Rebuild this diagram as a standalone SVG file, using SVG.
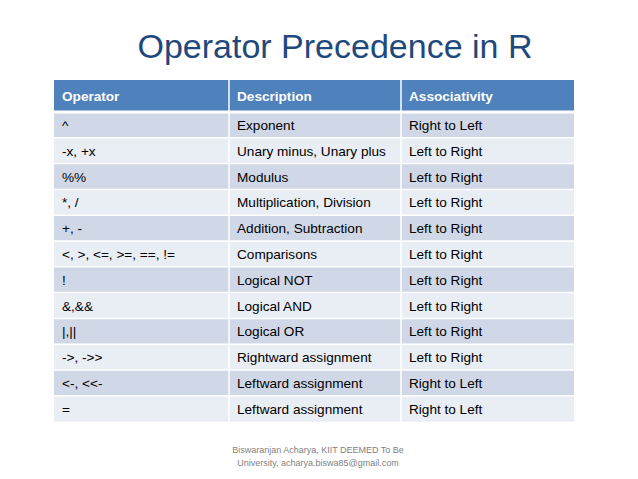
<svg xmlns="http://www.w3.org/2000/svg" width="638" height="479" viewBox="0 0 638 479">
<style>
.t{font-family:"Liberation Sans",Arial,sans-serif;font-size:13.6px;fill:#000}
.h{font-family:"Liberation Sans",Arial,sans-serif;font-size:13.6px;font-weight:bold;fill:#fff}
.a{fill:#D0D8E8}.b{fill:#E9EDF4}
.f{font-family:"Liberation Sans",Arial,sans-serif;font-size:9px;fill:#7f7f7f}
</style>
<rect width="638" height="479" fill="#fff"/>
<text x="335" y="58" text-anchor="middle" font-family="Liberation Sans,Arial,sans-serif" font-size="34" fill="#1F497D">Operator Precedence in R</text>
<g id="table">
<rect x="54" y="80" width="520" height="32" fill="#4F81BD"/>
<text class="h" x="62" y="101">Operator</text><text class="h" x="237" y="101">Description</text><text class="h" x="409" y="101">Associativity</text>
<rect class="a" x="54" y="112" width="520" height="25.8"/>
<rect class="b" x="54" y="137.8" width="520" height="25.8"/>
<rect class="a" x="54" y="163.6" width="520" height="25.8"/>
<rect class="b" x="54" y="189.4" width="520" height="25.8"/>
<rect class="a" x="54" y="215.2" width="520" height="25.8"/>
<rect class="b" x="54" y="241" width="520" height="25.8"/>
<rect class="a" x="54" y="266.8" width="520" height="25.8"/>
<rect class="b" x="54" y="292.6" width="520" height="25.8"/>
<rect class="a" x="54" y="318.4" width="520" height="25.8"/>
<rect class="b" x="54" y="344.2" width="520" height="25.8"/>
<rect class="a" x="54" y="370" width="520" height="25.8"/>
<rect class="b" x="54" y="395.8" width="520" height="25.8"/>
<g stroke="#fff" stroke-width="1.5">
<line x1="229" y1="80" x2="229" y2="422"/><line x1="401" y1="80" x2="401" y2="422"/>
<line x1="54" y1="112" x2="574" y2="112" stroke-width="3"/>
<line x1="54" y1="137.8" x2="574" y2="137.8"/><line x1="54" y1="163.6" x2="574" y2="163.6"/><line x1="54" y1="189.4" x2="574" y2="189.4"/><line x1="54" y1="215.2" x2="574" y2="215.2"/><line x1="54" y1="241" x2="574" y2="241"/><line x1="54" y1="266.8" x2="574" y2="266.8"/><line x1="54" y1="292.6" x2="574" y2="292.6"/><line x1="54" y1="318.4" x2="574" y2="318.4"/><line x1="54" y1="344.2" x2="574" y2="344.2"/><line x1="54" y1="370" x2="574" y2="370"/><line x1="54" y1="395.8" x2="574" y2="395.8"/>
</g>
<g class="t">
<text class="t" x="62" y="130">^</text><text class="t" x="237" y="130">Exponent</text><text class="t" x="409" y="130">Right to Left</text>
<text class="t" x="62" y="155.8">-x, +x</text><text class="t" x="237" y="155.8">Unary minus, Unary plus</text><text class="t" x="409" y="155.8">Left to Right</text>
<text class="t" x="62" y="181.6">%%</text><text class="t" x="237" y="181.6">Modulus</text><text class="t" x="409" y="181.6">Left to Right</text>
<text class="t" x="62" y="207.4">*, /</text><text class="t" x="237" y="207.4">Multiplication, Division</text><text class="t" x="409" y="207.4">Left to Right</text>
<text class="t" x="62" y="233.2">+, -</text><text class="t" x="237" y="233.2">Addition, Subtraction</text><text class="t" x="409" y="233.2">Left to Right</text>
<text class="t" x="62" y="259">&lt;, &gt;, &lt;=, &gt;=, ==, !=</text><text class="t" x="237" y="259">Comparisons</text><text class="t" x="409" y="259">Left to Right</text>
<text class="t" x="62" y="284.8">!</text><text class="t" x="237" y="284.8">Logical NOT</text><text class="t" x="409" y="284.8">Left to Right</text>
<text class="t" x="62" y="310.6">&amp;,&amp;&amp;</text><text class="t" x="237" y="310.6">Logical AND</text><text class="t" x="409" y="310.6">Left to Right</text>
<text class="t" x="62" y="336.4">|,||</text><text class="t" x="237" y="336.4">Logical OR</text><text class="t" x="409" y="336.4">Left to Right</text>
<text class="t" x="62" y="362.2">-&gt;, -&gt;&gt;</text><text class="t" x="237" y="362.2">Rightward assignment</text><text class="t" x="409" y="362.2">Left to Right</text>
<text class="t" x="62" y="388">&lt;-, &lt;&lt;-</text><text class="t" x="237" y="388">Leftward assignment</text><text class="t" x="409" y="388">Right to Left</text>
<text class="t" x="62" y="413.8">=</text><text class="t" x="237" y="413.8">Leftward assignment</text><text class="t" x="409" y="413.8">Right to Left</text>
</g>
</g>
<text class="f" x="318" y="453" text-anchor="middle">Biswaranjan Acharya, KIIT DEEMED To Be</text>
<text class="f" x="318" y="466" text-anchor="middle">University, acharya.biswa85@gmail.com</text>
</svg>
